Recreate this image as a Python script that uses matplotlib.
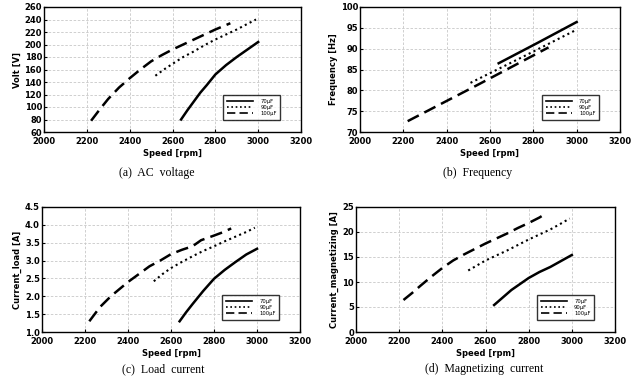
import numpy as np
import matplotlib
matplotlib.use("Agg")
import matplotlib.pyplot as plt

# speed [rpm] / value pairs
labels = ["70\u03bcF", "90\u03bcF", "100\u03bcF"]

volt_70_x = [2640, 2670, 2700, 2730, 2760, 2800, 2850, 2900, 2950, 3000]
volt_70_y = [80, 95, 109, 123, 135, 152, 167, 180, 192, 204]
volt_90_x = [2520, 2560, 2600, 2650, 2700, 2750, 2800, 2850, 2900, 2950, 2990]
volt_90_y = [150, 160, 169, 180, 189, 199, 208, 216, 224, 233, 240]
volt_100_x = [2220, 2260, 2300, 2350, 2400, 2450, 2500, 2550, 2600, 2650, 2700, 2750, 2800, 2870]
volt_100_y = [78, 96, 113, 131, 146, 160, 173, 183, 192, 200, 208, 216, 224, 234]

freq_70_x = [2640, 2820, 3000]
freq_70_y = [86.5, 91.4, 96.4]
freq_90_x = [2510, 2750, 2990]
freq_90_y = [81.8, 88.0, 94.3]
freq_100_x = [2220, 2550, 2870]
freq_100_y = [72.6, 81.5, 90.3]

load_70_x = [2640, 2670, 2700, 2750, 2800, 2850, 2900, 2950, 3000]
load_70_y = [1.30, 1.55, 1.78, 2.15, 2.49, 2.74, 2.96, 3.17, 3.33]
load_90_x = [2520, 2560, 2600, 2650, 2700, 2750, 2800, 2850, 2900, 2950, 2990]
load_90_y = [2.42, 2.62, 2.79, 2.96, 3.12, 3.27, 3.40, 3.54, 3.67, 3.80, 3.92]
load_100_x = [2220, 2270, 2320, 2360, 2400, 2450, 2500, 2550, 2600, 2650, 2700, 2740, 2800, 2840, 2880]
load_100_y = [1.30, 1.70, 2.00, 2.20, 2.40, 2.62, 2.84, 3.00, 3.18, 3.30, 3.40, 3.57, 3.70, 3.79, 3.90]

mag_70_x = [2640, 2680, 2720, 2760, 2800, 2850, 2900, 2950, 3000]
mag_70_y = [5.4, 6.9, 8.4, 9.6, 10.8, 12.0, 13.0, 14.2, 15.4]
mag_90_x = [2520, 2560, 2600, 2650, 2700, 2750, 2800, 2850, 2900, 2950, 2990]
mag_90_y = [12.3, 13.3, 14.3, 15.3, 16.3, 17.4, 18.5, 19.5, 20.5, 21.7, 22.7]
mag_100_x = [2220, 2260, 2300, 2350, 2400, 2450, 2500, 2550, 2600, 2650, 2700, 2750, 2800, 2850, 2880]
mag_100_y = [6.4, 7.8, 9.3, 11.1, 12.8, 14.3, 15.5, 16.6, 17.7, 18.7, 19.7, 20.8, 21.8, 22.9, 23.7]

W, H = 631, 378


def px_rect(x0, x1, y0, y1):
    # axes box given in pixels from the top-left corner
    return [x0 / W, 1 - y1 / H, (x1 - x0) / W, (y1 - y0) / H]


panels = [
    dict(rect=px_rect(44, 301, 7, 132), ylabel="Volt [V]", ylim=(60, 260), step=20, fmt="{:.0f}",
         series=[(volt_70_x, volt_70_y), (volt_90_x, volt_90_y), (volt_100_x, volt_100_y)],
         caption="(a)  AC  voltage", cap_xy=(157, 173)),
    dict(rect=px_rect(360, 620, 7, 132), ylabel="Frequency [Hz]", ylim=(70, 100), step=5, fmt="{:.0f}",
         series=[(freq_70_x, freq_70_y), (freq_90_x, freq_90_y), (freq_100_x, freq_100_y)],
         caption="(b)  Frequency", cap_xy=(478, 173)),
    dict(rect=px_rect(42, 300, 207, 332), ylabel="Current_load [A]", ylim=(1.0, 4.5), step=0.5, fmt="{:.1f}",
         series=[(load_70_x, load_70_y), (load_90_x, load_90_y), (load_100_x, load_100_y)],
         caption="(c)  Load  current", cap_xy=(163, 369)),
    dict(rect=px_rect(356, 615, 207, 332), ylabel="Current_magnetizing [A]", ylim=(0, 25), step=5, fmt="{:.0f}",
         series=[(mag_70_x, mag_70_y), (mag_90_x, mag_90_y), (mag_100_x, mag_100_y)],
         caption="(d)  Magnetizing  current", cap_xy=(484, 369)),
]

styles = [dict(ls="-", lw=1.8), dict(ls=(0, (1, 1.6)), lw=1.5), dict(ls=(0, (5, 2.5)), lw=1.8)]

fig = plt.figure(figsize=(6.31, 3.78), dpi=100)

for p in panels:
    ax = fig.add_axes(p["rect"])
    for (x, y), st, lab in zip(p["series"], styles, labels):
        ax.plot(x, y, color="black", label=lab, **st)
    ax.set_xlim(2000, 3200)
    ax.set_ylim(*p["ylim"])
    ax.set_xticks(np.arange(2000, 3201, 200))
    yt = np.arange(p["ylim"][0], p["ylim"][1] + p["step"] / 2, p["step"])
    ax.set_yticks(yt)
    ax.set_yticklabels([p["fmt"].format(v) for v in yt])
    ax.grid(True, color="#c8c8c8", lw=0.6, ls=(0, (3, 2)))
    ax.tick_params(direction="in", length=2, width=0.8, labelsize=6)
    ax.tick_params(axis="x", pad=3.5)
    ax.tick_params(axis="y", pad=1.5)
    for lbl in ax.get_xticklabels() + ax.get_yticklabels():
        lbl.set_fontweight("bold")
    for s in ax.spines.values():
        s.set_linewidth(1.0)
    ax.set_xlabel("Speed [rpm]", fontsize=6, fontweight="bold", labelpad=2)
    ax.set_ylabel(p["ylabel"], fontsize=6, fontweight="bold", labelpad=2,
                  family=["Liberation Sans Narrow", "DejaVu Sans"])
    leg = ax.legend(loc="lower right", bbox_to_anchor=(0.92, 0.1), fontsize=3.8,
                    handlelength=5.0, frameon=True, fancybox=False, borderpad=0.7,
                    labelspacing=0.2, handletextpad=1.3, borderaxespad=0)
    leg.get_frame().set_edgecolor("black")
    leg.get_frame().set_linewidth(1.0)
    for line in leg.get_lines():
        line.set_linewidth(1.2)
    fig.text(p["cap_xy"][0] / W, 1 - p["cap_xy"][1] / H, p["caption"], ha="center", va="center",
             fontsize=8.5, family="Liberation Serif")

fig.savefig("out.png", dpi=100)
